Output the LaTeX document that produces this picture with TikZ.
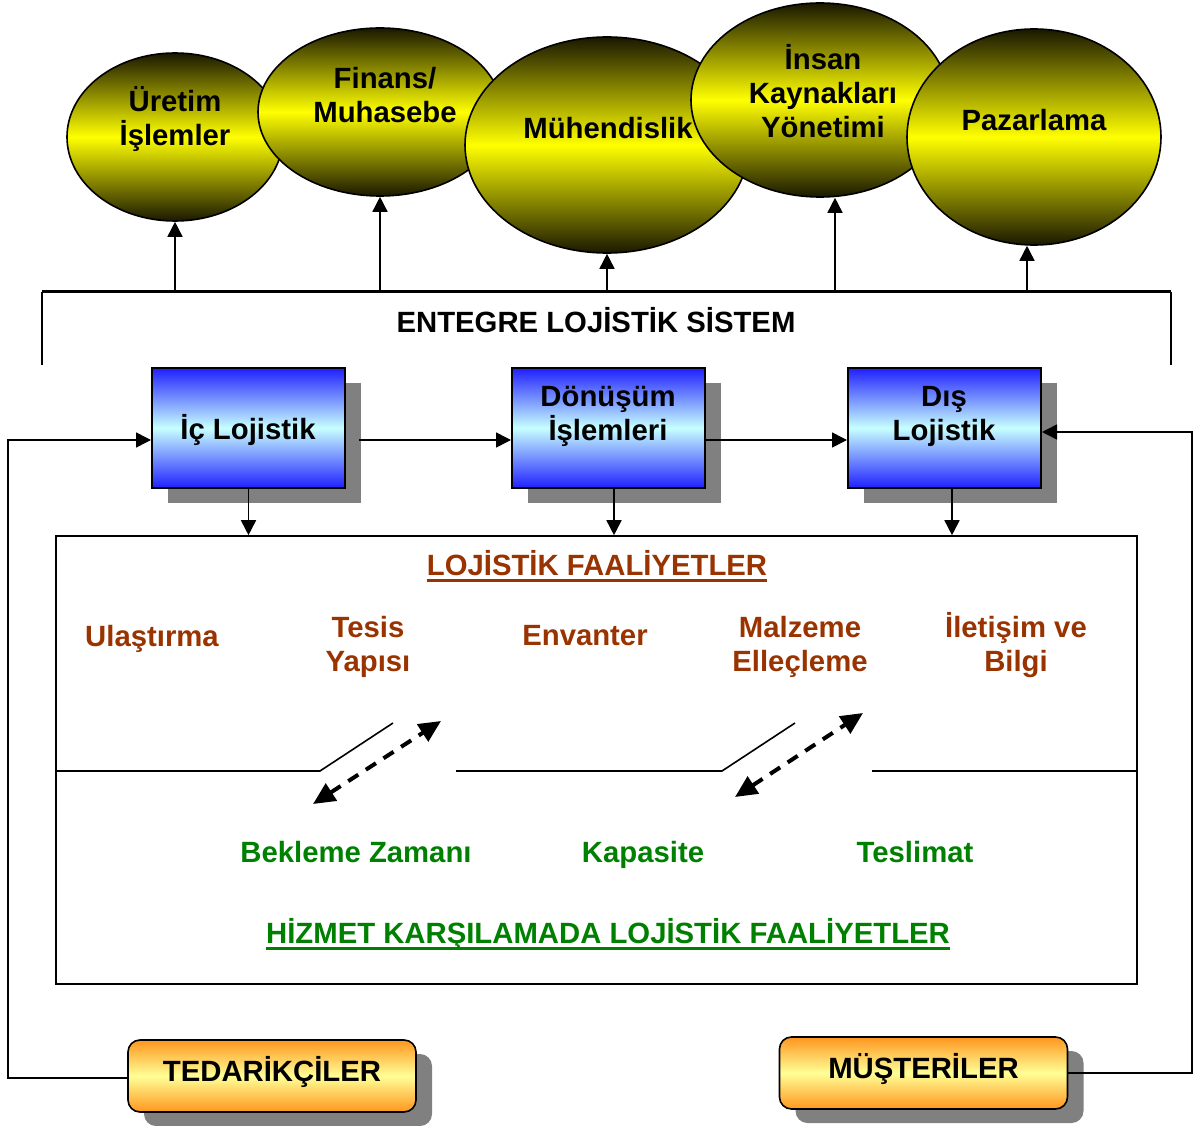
\documentclass[tikz,border=0pt]{standalone}
\usepackage{fontspec}
\setmainfont{Liberation Sans}
\usetikzlibrary{shapes.geometric,shadows,arrows.meta,positioning}

\definecolor{elldark}{RGB}{26,24,0}
\definecolor{boxblue}{RGB}{32,32,255}
\definecolor{boxlight}{RGB}{200,255,255}
\definecolor{boxorange}{RGB}{255,150,30}
\definecolor{boxcream}{RGB}{255,255,150}
\definecolor{faalred}{RGB}{153,51,0}
\definecolor{faalgreen}{RGB}{0,128,0}

\tikzset{
	lbl/.style={font=\bfseries\fontsize{29.3}{34}\selectfont, align=center, inner sep=0pt},
	dept/.style={ellipse, draw, line width=1.6pt, inner sep=0pt, top color=elldark, bottom color=elldark, middle color=yellow},
	flowbox/.style={rectangle, draw, line width=2pt, minimum width=193pt, minimum height=120pt, top color=boxblue, bottom color=boxblue, middle color=boxlight, drop shadow={shadow xshift=16pt, shadow yshift=-15pt, fill=gray, opacity=1}},
	partybox/.style={rectangle, rounded corners=12pt, draw, line width=1.6pt, minimum width=288pt, minimum height=72pt, top color=boxorange, bottom color=boxorange, middle color=boxcream, lbl, text height=22pt, text depth=12pt, drop shadow={shadow xshift=16pt, shadow yshift=-14pt, fill=gray, opacity=1}},
	arr/.style={line width=1.6pt, -{Triangle[length=15pt,width=15pt]}},
	dbl/.style={line width=4pt, dash pattern=on 12pt off 9pt, {Triangle[length=22pt,width=20pt]}-{Triangle[length=22pt,width=20pt]}},
	redtxt/.style={lbl, text=faalred},
	greentxt/.style={lbl, text=faalgreen}
}

\begin{document}
\begin{tikzpicture}[x=1pt,y=-1pt]
	\useasboundingbox (0,0) rectangle (1203,1126);
	
	% departments
	\node[dept, minimum width=216pt, minimum height=168pt] (uretim) at (175,137) {};
	\node[lbl] (uretim-t) at (175,119) {Üretim\\İşlemler};
	\node[dept, minimum width=244pt, minimum height=168pt] (finans) at (380,112) {};
	\node[lbl] (finans-t) at (385,95) {Finans/\\Muhasebe};
	\node[dept, minimum width=284pt, minimum height=216pt] (muh) at (607,145) {};
	\node[lbl] (muh-t) at (608,128) {Mühendislik};
	\node[dept, minimum width=258pt, minimum height=194pt] (insan) at (820,100) {};
	\node[lbl] (insan-t) at (823,91) {İnsan\\Kaynakları\\Yönetimi};
	\node[dept, minimum width=254pt, minimum height=216pt] (pazar) at (1034,137) {};
	\node[lbl] (pazar-t) at (1034,120) {Pazarlama};
	
	% integrated system bar
	\coordinate (barl) at (42,292);
	\coordinate (barr) at (1171,292);
	\draw[line width=3pt] (barl) -- (barr);
	\draw[line width=1.6pt] (barl) -- ++(0,73);
	\draw[line width=1.6pt] (barr) -- ++(0,73);
	\node[lbl] (sistem) at (596,320) {ENTEGRE LOJİSTİK SİSTEM};
	
	\draw[arr] (uretim.south |- barl) -- (uretim.south);
	\draw[arr] (finans.south |- barl) -- (finans.south);
	\draw[arr] (muh.south |- barl) -- (muh.south);
	\draw[arr] ([xshift=15pt]insan.south |- barl) -- ([xshift=15pt]insan.south);
	\draw[arr] ([xshift=-7pt]pazar.south |- barl) -- ([xshift=-7pt]pazar.south);
	
	% logistic flow
	\node[flowbox] (icl) at (248.5,428) {};
	\node[lbl] (icl-t) at (248,430) {İç Lojistik};
	\node[flowbox] (donusum) at (608.5,428) {};
	\node[lbl] (donusum-t) at (608,416) {Dönüşüm\\İşlemleri};
	\node[flowbox] (dis) at (944.5,428) {};
	\node[lbl] (dis-t) at (944,416) {Dış\\Lojistik};
	
	\draw[arr] ([xshift=13pt,yshift=-12pt]icl.east) -- ([yshift=-12pt]donusum.west);
	\draw[arr] ([yshift=-12pt]donusum.east) -- ([yshift=-12pt]dis.west);
	
	% activities
	\node[draw, line width=1.6pt, minimum width=1081pt, minimum height=448pt] (faal) at (596.5,760) {};
	
	\draw[arr] (icl.south) -- (icl.south |- faal.north);
	\draw[arr] ([xshift=5.5pt]donusum.south) -- ([xshift=5.5pt]donusum.south |- faal.north);
	\draw[arr] ([xshift=7.5pt]dis.south) -- ([xshift=7.5pt]dis.south |- faal.north);
	
	\node[redtxt] (lojfaal) at (597,563) {LOJİSTİK FAALİYETLER};
	\draw[line width=3pt, faalred] ([yshift=-5pt]lojfaal.base west) -- ([yshift=-5pt]lojfaal.base east);
	\node[redtxt] (ulas) at (152,639) {Ulaştırma};
	\node[redtxt] (tesis) at (368,647) {Tesis\\Yapısı};
	\node[redtxt] (envanter) at (585,636) {Envanter};
	\node[redtxt] (malzeme) at (800,647) {Malzeme\\Elleçleme};
	\node[redtxt] (iletisim) at (1016,645) {İletişim ve\\Bilgi};
	
	\coordinate (mid) at (0,771);
	\draw[line width=1.6pt] (faal.west |- mid) -- (320,771) -- (393,723);
	\draw[line width=1.6pt] (456,771) -- (722,771) -- (795,723);
	\draw[line width=1.6pt] (872,771) -- (faal.east |- mid);
	
	\coordinate (d1a) at (441,721);
	\coordinate (d1b) at (313,804);
	\coordinate (d2a) at (863,713);
	\coordinate (d2b) at (735,797);
	\draw[dbl] (d1b) -- (d1a);
	\draw[dbl] (d2b) -- (d2a);
	
	\node[greentxt] (bekleme) at (356,852) {Bekleme Zamanı};
	\node[greentxt] (kapasite) at (643,855) {Kapasite};
	\node[greentxt] (teslimat) at (915,852) {Teslimat};
	\node[greentxt] (hizmet) at (608,934) {HİZMET KARŞILAMADA LOJİSTİK FAALİYETLER};
	\draw[line width=3pt, faalgreen] ([yshift=-5pt]hizmet.base west) -- ([yshift=-5pt]hizmet.base east);
	
	% suppliers and customers
	\node[partybox] (ted) at (272,1076) {TEDARİKÇİLER};
	\node[partybox] (mus) at (923.5,1073) {MÜŞTERİLER};
	
	\coordinate (lft) at (8,0);
	\coordinate (rgt) at (1192,0);
	\draw[arr] ([yshift=-2pt]ted.west) -- ([yshift=-2pt]ted.west -| lft) |- ([yshift=-12pt]icl.west);
	\draw[arr] (mus.east) -- (mus.east -| rgt) |- ([yshift=-4pt]dis.east);
\end{tikzpicture}
\end{document}
